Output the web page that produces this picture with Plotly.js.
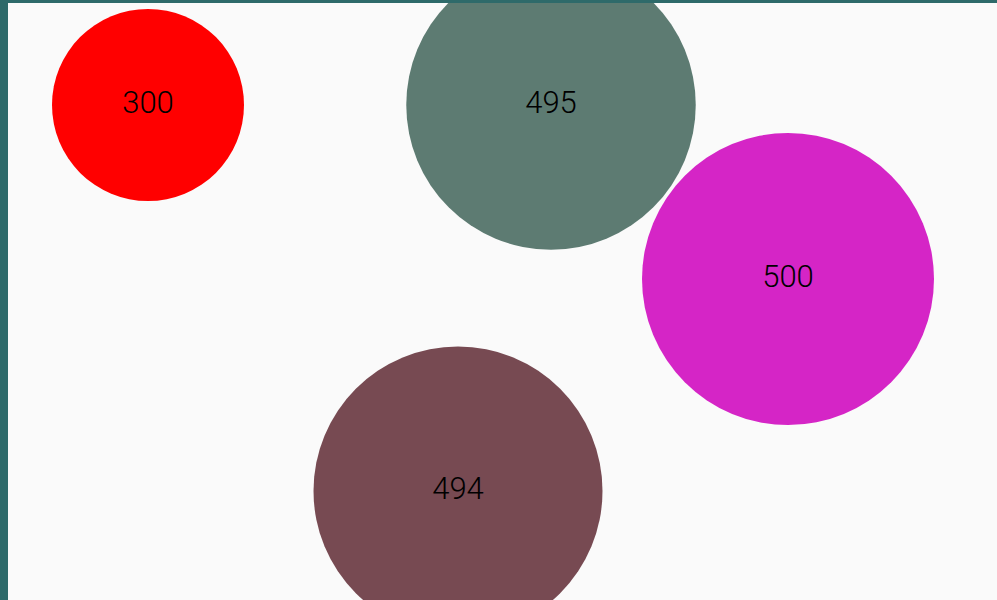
<!DOCTYPE html>
<html>
<head>
<meta charset="utf-8">
<script src="https://cdn.plot.ly/plotly-3.0.1.min.js"></script>
<style>html,body{margin:0;padding:0;background:#2e6a6a;}#chart{width:997px;height:600px;}</style>
</head>
<body>
<div id="chart"></div>
<script>
// Data
const labels = ["300", "495", "500", "494"];
const values = [300, 495, 500, 494];
const xPos = [140, 543, 780, 450];
const yPos = [102, 102, 276, 488];
const colors = ["#ff0000", "#5d7b72", "#d525c6", "#774a52"];

// bubble diameter scale (px)
const diam = values.map(v => 0.5 * v + 42);

const trace = {
  type: "scatter",
  mode: "markers+text",
  x: xPos,
  y: yPos,
  text: labels,
  textposition: "middle center",
  textfont: {family: "Roboto, Liberation Sans, Arial, sans-serif", size: 31, weight: 300, color: "#000"},
  marker: {size: diam, sizemode: "diameter", color: colors, opacity: 1, line: {width: 0}},
  hoverinfo: "none",
  cliponaxis: true
};

const layout = {
  width: 997, height: 600,
  margin: {l: 8, t: 3, r: 0, b: 0, pad: 0},
  paper_bgcolor: "#2e6a6a",
  plot_bgcolor: "#fafafa",
  showlegend: false,
  xaxis: {range: [0, 989], visible: false, showgrid: false, zeroline: false, fixedrange: true},
  yaxis: {range: [597, 0], visible: false, showgrid: false, zeroline: false, fixedrange: true}
};

Plotly.newPlot("chart", [trace], layout, {displayModeBar: false, staticPlot: true});
</script>
</body>
</html>
